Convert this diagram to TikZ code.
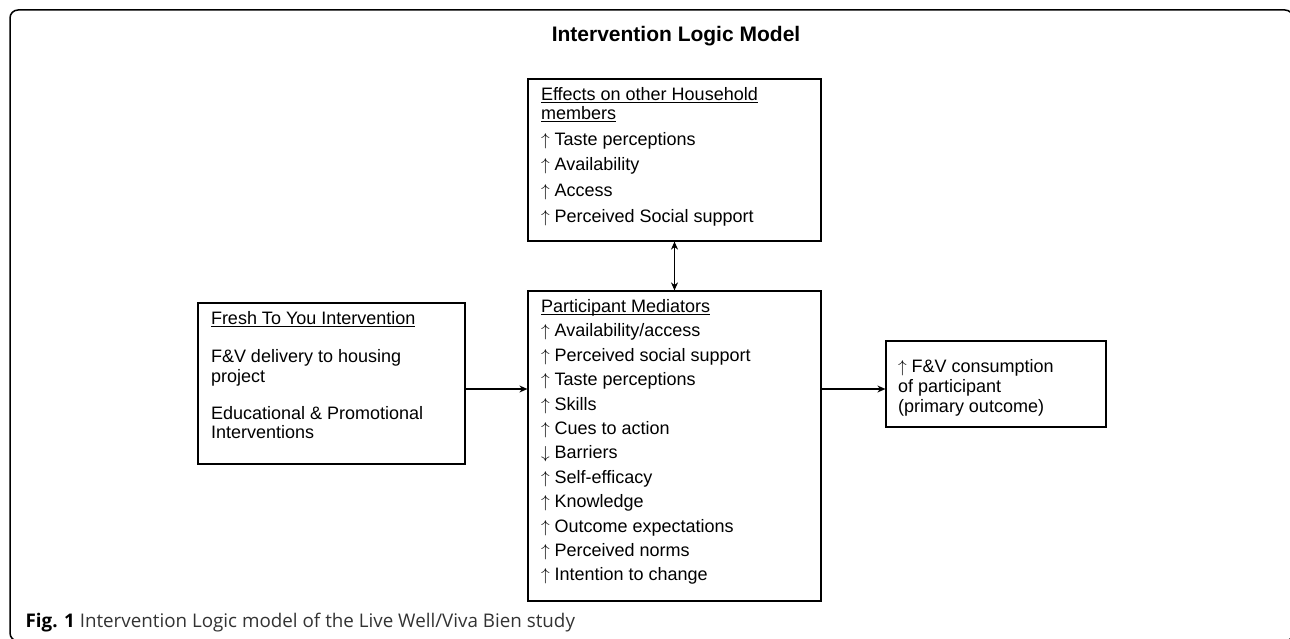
\documentclass[tikz,border=0pt]{standalone}
\usepackage{fontspec}
\setmainfont{Liberation Sans}
\newfontfamily\capfont{Open Sans}
\usetikzlibrary{arrows.meta}

% heading text with a rule just under the baseline
\newsavebox{\headbox}
\newcommand{\ulhead}[1]{\sbox{\headbox}{#1}\rlap{\rule[-2.4pt]{\wd\headbox}{0.9pt}}\usebox{\headbox}}

\tikzset{
	box/.style={draw, line width=1.2pt, inner sep=0pt},
	entry/.style={anchor=base west, inner sep=0pt, font=\fontsize{18}{20}\selectfont},
}

\begin{document}
\begin{tikzpicture}[x=1pt, y=-1pt, line width=1.2pt, >={Stealth[length=8pt, width=7pt]}]
	\def\lx{13pt};
	\def\gap{24.4pt};

	\useasboundingbox (0,0) rectangle (1290,639);
	\begin{scope}
		\clip (0,0) rectangle (1290,639);
		\draw [line width=1.5pt, rounded corners=8pt] (10,10) rectangle (1293,641);
	\end{scope}

	\node [anchor=base, inner sep=0pt, font=\fontsize{21}{24}\selectfont\bfseries] (title) at (676,42) {Intervention Logic Model};

	% the four boxes
	\node [box, minimum width=293pt, minimum height=162pt] (house) at (674.5,160) {};
	\node [box, minimum width=293pt, minimum height=310pt] (med) at (674.5,446) {};
	\node [box, minimum width=267pt, minimum height=161pt] (ftu) at (331.5,383.5) {};
	\node [box, minimum width=220pt, minimum height=86pt] (outcome) at (996,384) {};

	% household members
	\node [entry] (house-h1) at ([xshift=\lx, yshift=-22pt]house.north west) {\ulhead{Effects on other Household}};
	\node [entry] (house-h2) at ([xshift=\lx, yshift=-41pt]house.north west) {\ulhead{members}};
	\foreach \txt [count=\i] in {Taste perceptions, Availability, Access, Perceived Social support}
		\node [entry] (house-\i) at ([xshift=\lx, yshift={-41pt-25.7pt*\i}]house.north west) {$\uparrow$ \txt};

	% mediators
	\node [entry] (med-h) at ([xshift=\lx, yshift=-22pt]med.north west) {\ulhead{Participant Mediators}};
	\foreach \txt [count=\i] in {$\uparrow$ Availability{/}access, $\uparrow$ Perceived social support,
			$\uparrow$ Taste perceptions, $\uparrow$ Skills, $\uparrow$ Cues to action, $\downarrow$ Barriers,
			$\uparrow$ Self-efficacy, $\uparrow$ Knowledge, $\uparrow$ Outcome expectations,
			$\uparrow$ Perceived norms, $\uparrow$ Intention to change}
		\node [entry] (med-\i) at ([xshift=\lx, yshift={-22pt-\gap*\i}]med.north west) {\txt};

	% intervention
	\node [entry] (ftu-h) at ([xshift=\lx, yshift=-22pt]ftu.north west) {\ulhead{Fresh To You Intervention}};
	\node [entry] (ftu-1) at ([xshift=\lx, yshift=-60pt]ftu.north west) {F\&V delivery to housing};
	\node [entry] (ftu-2) at ([xshift=\lx, yshift=-80pt]ftu.north west) {project};
	\node [entry] (ftu-3) at ([xshift=\lx, yshift=-117pt]ftu.north west) {Educational \& Promotional};
	\node [entry] (ftu-4) at ([xshift=\lx, yshift=-136pt]ftu.north west) {Interventions};

	% outcome
	\node [entry] (outcome-1) at ([xshift=12pt, yshift=-32pt]outcome.north west) {$\uparrow$ F\&V consumption};
	\node [entry] (outcome-2) at ([xshift=12pt, yshift=-52pt]outcome.north west) {of participant};
	\node [entry] (outcome-3) at ([xshift=12pt, yshift=-72pt]outcome.north west) {(primary outcome)};

	% connectors
	\coordinate (in) at ([yshift=-5.5pt]ftu.east);
	\coordinate (out) at ([yshift=-5pt]outcome.west);
	\draw [->] (in) -- (in -| med.west);
	\draw [->] (out -| med.east) -- (out);
	\draw [<->] (house.south) -- (med.north);

	\node [anchor=base west, inner sep=0pt, font=\capfont\fontsize{18.8}{22}\selectfont] (caption) at (25,627)
		{\textbf{Fig. 1} \color{black!80}Intervention Logic model of the Live Well/Viva Bien study};
\end{tikzpicture}
\end{document}
